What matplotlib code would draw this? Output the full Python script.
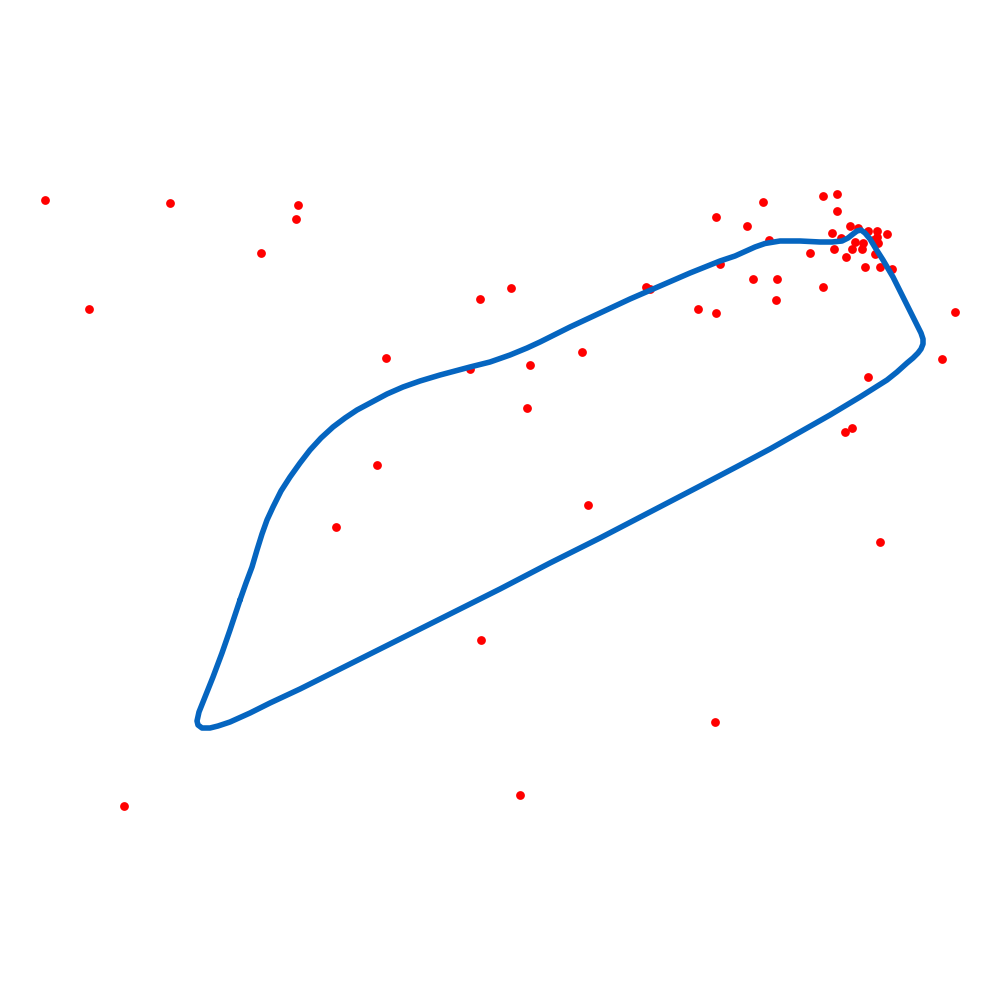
import matplotlib
matplotlib.use("Agg")
import matplotlib.pyplot as plt

# Loop curve (x, y) in chart units (y grows downward)
loop_x = [240, 246, 252, 257, 262, 267, 273, 281, 290, 300, 310, 321, 333, 345, 357, 372,
          387, 403, 420, 440, 470, 490, 510, 527, 540, 570, 600, 630, 660, 690, 720, 735,
          745, 755, 765, 780, 800, 820, 832, 842, 848, 853, 857, 861, 865, 870, 876, 883,
          893, 903, 912, 917, 921, 923, 923, 921, 918, 913, 907, 897, 887, 860, 830, 800,
          770, 740, 700, 650, 600, 550, 500, 450, 400, 350, 300, 270, 250, 230, 218, 210,
          202, 198, 197, 199, 205, 213, 222, 230, 240]
loop_y = [600, 583, 567, 550, 534, 520, 507, 491, 477, 463, 450, 438, 427, 418, 410, 402,
          394, 387, 381, 375, 367, 362, 355, 348, 342, 327, 313, 299, 286, 273, 261, 256,
          251.5, 247, 243.5, 241, 241, 242, 242, 241, 238, 234, 231, 230, 233, 239, 249, 260,
          277, 297, 315, 325, 333, 339, 344, 349, 353, 358, 363, 372, 380, 397, 415, 432,
          449, 465, 486, 512, 538, 563, 589, 614, 639, 664, 689, 703, 713, 722, 726, 728,
          728, 725, 721, 712, 697, 677, 653, 630, 600]

# Scatter points
pts_x = [45, 170, 298, 296, 261, 89, 386, 480, 511, 470, 530, 527, 582, 377, 336, 588,
         481, 715, 520, 124, 646, 650, 698, 716, 720, 716, 747, 763, 769, 753, 777, 776,
         823, 837, 837, 810, 823, 832, 834, 846, 850, 852, 858, 862, 855, 863, 865, 868,
         873, 877, 877, 878, 875, 880, 887, 892, 841, 955, 942, 868, 845, 852, 880]
pts_y = [200, 203, 205, 219, 253, 309, 358, 299, 288, 369, 365, 408, 352, 465, 527, 505,
         640, 722, 795, 806, 287, 289, 309, 313, 264, 217, 226, 202, 240, 279, 279, 300,
         196, 194, 211, 253, 287, 233, 249, 257, 226, 249, 228, 249, 242, 243, 267, 231,
         240, 231, 237, 243, 254, 267, 234, 269, 238, 312, 359, 377, 432, 428, 542]

fig = plt.figure(figsize=(10, 10), dpi=100)
ax = fig.add_axes([0, 0, 1, 1])
ax.set_xlim(0, 1000)
ax.set_ylim(1000, 0)
ax.axis("off")

ax.scatter(pts_x, pts_y, s=40, color="#ff0000", linewidths=0, zorder=2)
ax.plot(loop_x, loop_y, color="#0565c0", lw=4.0, solid_joinstyle="round",
        solid_capstyle="round", zorder=3)

fig.savefig("out.png", dpi=100)
